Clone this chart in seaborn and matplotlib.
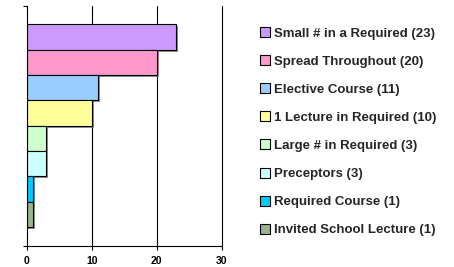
import matplotlib
matplotlib.use("Agg")
import matplotlib.pyplot as plt
import matplotlib.patheffects as pe
from matplotlib.patches import Patch
import seaborn as sns
import pandas as pd

categories = ["Small # in a Required", "Spread Throughout", "Elective Course",
              "1 Lecture in Required", "Large # in Required", "Preceptors",
              "Required Course", "Invited School Lecture"]
counts = [23, 20, 11, 10, 3, 3, 1, 1]
colors = ["#CC99FF", "#FF99CC", "#99CCFF", "#FFFF99", "#CCFFCC", "#CCFFFF",
          "#00CCFF", "#99B38C"]
xticks = [0, 10, 20, 30]

labels = [f"{c} ({n})" for c, n in zip(categories, counts)]
df = pd.DataFrame({"label": labels, "count": counts})

sns.set_style("white")
plt.rcParams["font.family"] = ["Liberation Sans", "DejaVu Sans"]

fig = plt.figure(figsize=(4.54, 2.67), dpi=100)
ax = fig.add_axes([26.5 / 454, 1 - 246 / 267, (222 - 26.5) / 454, (246 - 5.5) / 267])

sns.barplot(data=df, x="count", y="label", hue="label", palette=colors,
            width=1.0, edgecolor="black", linewidth=0.8, legend=False, ax=ax,
            saturation=1)
for p in ax.patches:
    p.set_path_effects([pe.withSimplePatchShadow(offset=(1.4, -1.4),
                                                 shadow_rgbFace="#808080", alpha=0.9)])

ax.set_xlim(0, 30)
ax.set_ylim(7.5 + 0.74, -0.5 - 0.74)
ax.set_xticks(xticks)
ax.set_xticklabels([str(t) for t in xticks], fontsize=7.5, fontweight="bold")
ax.set_yticks([7.5 + 0.74, -0.5 - 0.74])
ax.set_yticklabels([])
ax.set_xlabel("")
ax.set_ylabel("")
for t in xticks[1:]:
    ax.axvline(t, color="black", linewidth=0.8, zorder=0, clip_on=False)
ax.spines["top"].set_visible(False)
ax.spines["right"].set_visible(False)
for s in ["left", "bottom"]:
    ax.spines[s].set_color("black")
    ax.spines[s].set_linewidth(0.8)
ax.tick_params(axis="x", direction="out", length=3, width=0.8, pad=4, colors="black")
ax.tick_params(axis="y", direction="out", length=3, width=0.8, colors="black")
ax.tick_params(bottom=True, left=True)

handles = [Patch(facecolor=c, edgecolor="black", linewidth=0.8) for c in colors]
fig.legend(handles, labels, loc="upper left", bbox_to_anchor=(260 / 454, 1 - 27 / 267),
           frameon=False, prop={"size": 9.5, "weight": "bold"},
           handlelength=0.78, handleheight=0.78, handletextpad=0.3, labelspacing=1.18,
           borderaxespad=0, borderpad=0)

fig.savefig("out.png", dpi=100)
